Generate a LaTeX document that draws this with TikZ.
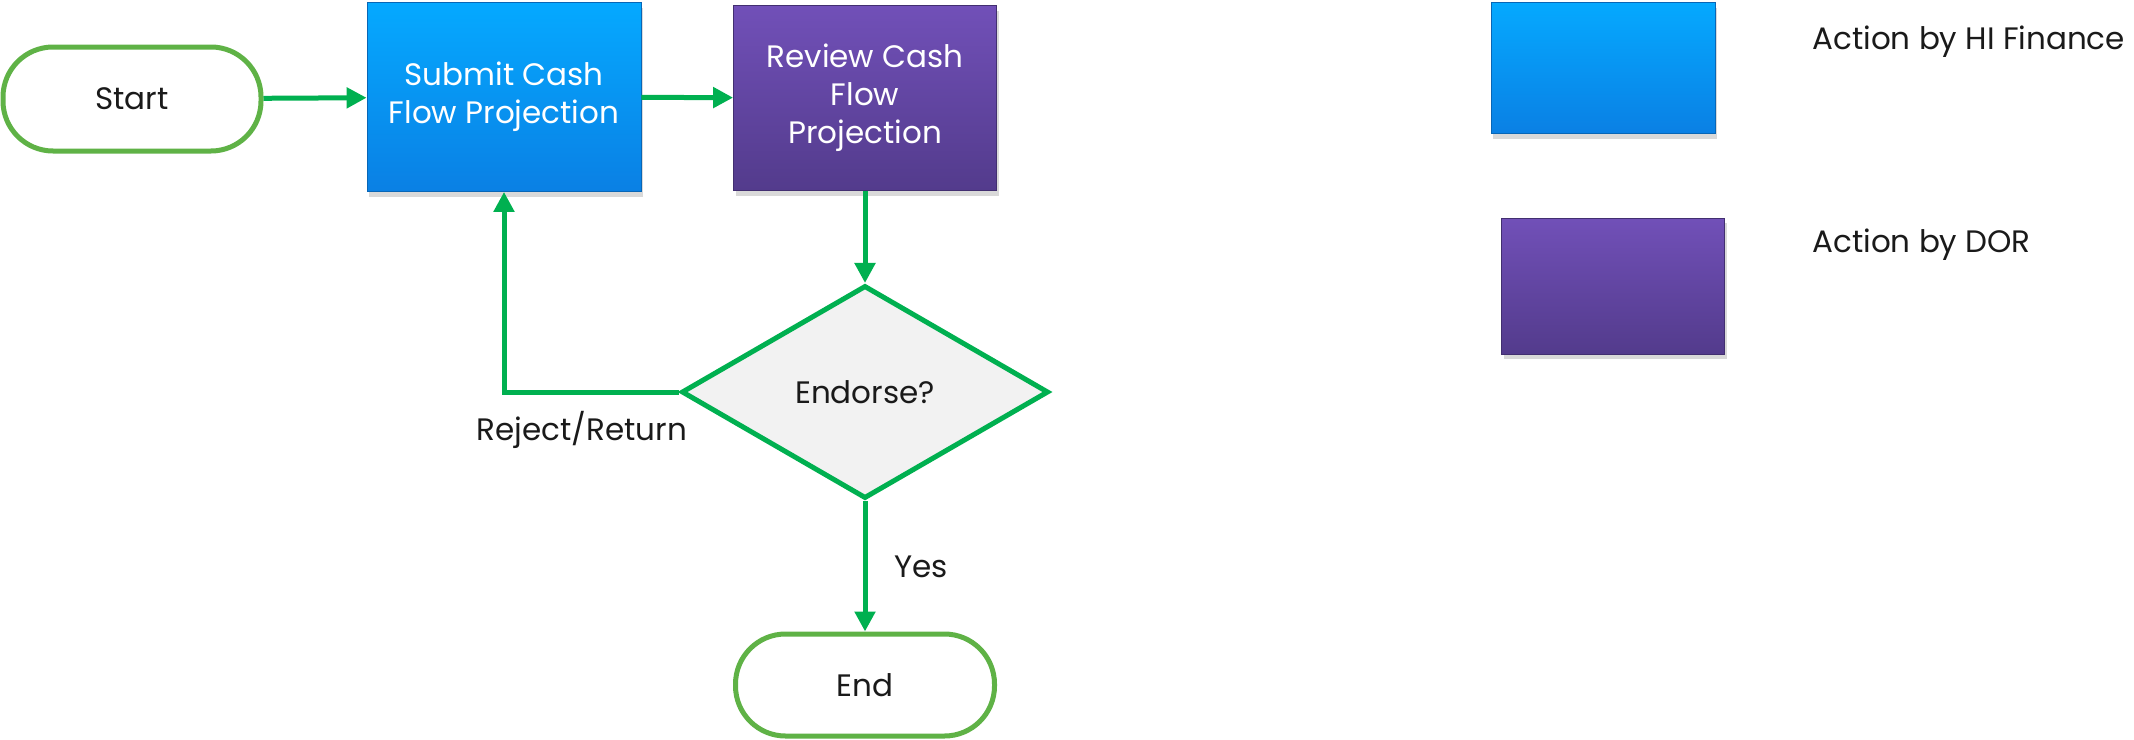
\documentclass[tikz,border=0pt]{standalone}
\usepackage{fontspec}
\setmainfont{Poppins}
\usetikzlibrary{shapes.geometric,arrows.meta,shadows,calc}
\definecolor{flowgreen}{HTML}{00B050}
\definecolor{termgreen}{HTML}{5FB246}
\definecolor{bluetop}{HTML}{05A9FF}
\definecolor{bluebot}{HTML}{0A80E4}
\definecolor{purptop}{HTML}{7150B8}
\definecolor{purpbot}{HTML}{533B8C}
\definecolor{decfill}{HTML}{F2F2F2}
\definecolor{txt}{HTML}{1A1A1A}
\tikzset{
  term/.style={draw=termgreen, line width=2.5pt, fill=white, rounded corners=25pt, inner sep=0pt, font=\fontsize{15.5}{19}\selectfont, text=txt},
  bluebox/.style={top color=bluetop, bottom color=bluebot, draw=bluebot!80!black, line width=0.4pt, inner sep=2pt, align=center, text=white, font=\fontsize{15.5}{19}\selectfont, drop shadow={shadow xshift=1pt, shadow yshift=-2.5pt, opacity=0.3}},
  purpbox/.style={top color=purptop, bottom color=purpbot, draw=purpbot!80!black, line width=0.4pt, inner sep=2pt, align=center, text=white, font=\fontsize{15.5}{19}\selectfont, drop shadow={shadow xshift=1pt, shadow yshift=-2.5pt, opacity=0.3}},
  decision/.style={shape=diamond, draw=flowgreen, fill=decfill, line width=2.5pt, inner sep=0pt, font=\fontsize{15.5}{19}\selectfont, text=txt},
  conn/.style={draw=flowgreen, line width=2.5pt, -{Triangle[length=10pt,width=10pt]}},
  lbl/.style={font=\fontsize{15.5}{19}\selectfont, text=txt, inner sep=0pt},
}
\begin{document}
\begin{tikzpicture}[x=0.5pt,y=-0.5pt]
\useasboundingbox (0,0) rectangle (2134,739);
\node[term, minimum width=129pt, minimum height=52pt] (start) at (132,99) {Start};
\node[bluebox, minimum width=137pt, minimum height=94.5pt] (submit) at (504,97) {Submit Cash\\Flow Projection};
\node[purpbox, minimum width=131.5pt, minimum height=92.5pt] (review) at (865,98) {Review Cash\\Flow\\Projection};
\node[decision, minimum width=183.5pt, minimum height=106.5pt] (dec) at (865,392) {Endorse?};
\node[term, minimum width=129.5pt, minimum height=51pt] (end) at (865,685) {End};
\draw[conn] (start) -- (submit);
\draw[conn] (submit) -- (review);
\draw[conn] (review) -- (dec);
\draw[conn] (dec) -- (end);
\draw[conn] (dec.west) -| (submit.south);
\node[lbl] (rej) at (582,430) {Reject/Return};
\node[lbl] (yes) at (921,567) {Yes};
\node[bluebox, minimum width=112pt, minimum height=65.5pt] (leg1) at (1603,68) {};
\node[purpbox, minimum width=111.5pt, minimum height=68pt] (leg2) at (1613,286) {};
\node[lbl, anchor=west] (leg1t) at (1812,42) {Action by HI Finance};
\node[lbl, anchor=west] (leg2t) at (1812,245) {Action by DOR};
\end{tikzpicture}
\end{document}
